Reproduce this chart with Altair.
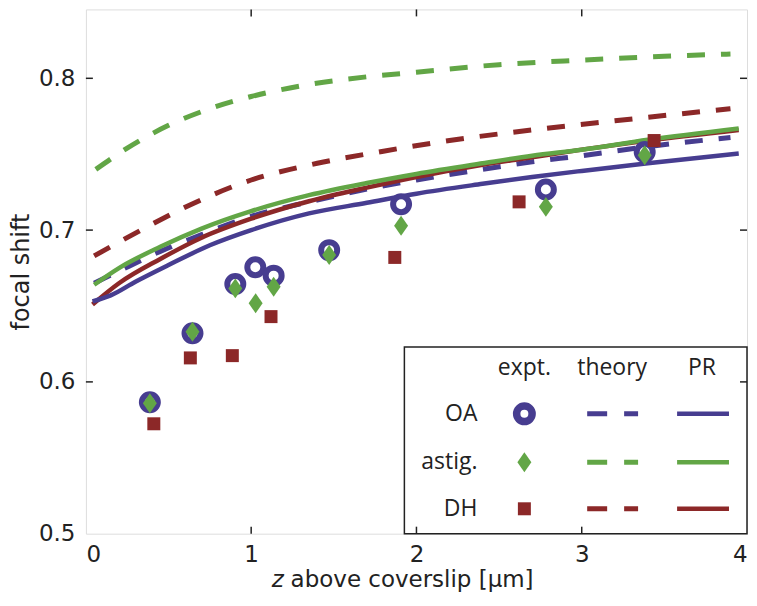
import altair as alt
import pandas as pd

# ---------------- data ----------------
# experimental points
oa_x = [0.387, 0.645, 0.904, 1.025, 1.136, 1.472, 1.907, 2.783, 3.381]
oa_y = [0.5866, 0.632, 0.6645, 0.6755, 0.670, 0.6868, 0.717, 0.7268, 0.7515]
astig_x = [0.387, 0.645, 0.904, 1.027, 1.136, 1.472, 1.907, 2.783, 3.381]
astig_y = [0.586, 0.633, 0.6616, 0.6518, 0.6627, 0.6836, 0.7028, 0.7153, 0.7493]
dh_x = [0.411, 0.632, 0.886, 1.12, 1.869, 2.621, 3.438]
dh_y = [0.5724, 0.6158, 0.6173, 0.643, 0.682, 0.7186, 0.759]

# theory curves (dashed)
oa_th_x = [0.05, 0.2, 0.45, 0.7, 1.0, 1.35, 1.7, 2.0, 2.4, 2.7, 3.0, 3.4, 3.9]
oa_th_y = [0.665, 0.673, 0.686, 0.697, 0.709, 0.7186, 0.727, 0.733, 0.740, 0.745, 0.749, 0.755, 0.761]
astig_th_x = [0.06, 0.25, 0.5, 0.75, 1.0, 1.3, 1.7, 2.0, 2.5, 3.0, 3.5, 3.9]
astig_th_y = [0.740, 0.754, 0.769, 0.780, 0.788, 0.795, 0.801, 0.804, 0.809, 0.812, 0.8145, 0.816]
dh_th_x = [0.05, 0.3, 0.6, 1.0, 1.4, 1.8, 2.2, 2.7, 3.2, 3.9]
dh_th_y = [0.683, 0.698, 0.715, 0.733, 0.744, 0.752, 0.759, 0.766, 0.772, 0.780]

# phase-retrieval curves (solid)
oa_pr_x = [0.04, 0.15, 0.3, 0.5, 0.75, 1.0, 1.35, 1.7, 2.0, 2.4, 2.7, 3.0, 3.4, 3.95]
oa_pr_y = [0.653, 0.657, 0.666, 0.677, 0.690, 0.700, 0.711, 0.718, 0.724, 0.7305, 0.735, 0.739, 0.744, 0.7505]
astig_pr_x = [0.05, 0.2, 0.45, 0.7, 1.0, 1.35, 1.7, 2.0, 2.4, 2.7, 3.0, 3.4, 3.95]
astig_pr_y = [0.664, 0.675, 0.689, 0.701, 0.7125, 0.723, 0.731, 0.737, 0.744, 0.749, 0.753, 0.7595, 0.767]
dh_pr_x = [0.04, 0.2, 0.45, 0.7, 1.0, 1.35, 1.7, 2.0, 2.4, 2.7, 3.0, 3.4, 3.95]
dh_pr_y = [0.651, 0.665, 0.681, 0.695, 0.7075, 0.719, 0.728, 0.735, 0.743, 0.748, 0.753, 0.759, 0.766]

# axis ticks
x_ticks = [0, 1, 2, 3, 4]
y_ticks = [0.5, 0.6, 0.7, 0.8]
x_inner_ticks = [1, 2, 3]
y_inner_ticks = [0.6, 0.7, 0.8]

# legend table (in data coordinates)
legend_rows = ["OA", "astig.", "DH"]
legend_row_y = [0.579, 0.547, 0.5164]
legend_headers = ["expt.", "theory", "PR"]
legend_header_x = [2.653, 3.184, 3.728]
legend_header_y = 0.6092
legend_label_x = 2.369
legend_marker_x = 2.653
legend_dash_x = [3.033, 3.341]
legend_solid_x = [3.577, 3.891]
legend_box_x = [1.927, 4.0]
legend_box_y = [0.5, 0.623]

# ---------------- styling ----------------
BLUE = "#473d90"
GREEN = "#62a646"
RED = "#8c2828"
INK = "#222222"
W, H = 662, 525
XDOM = [0, 4]
YDOM = [0.5, 0.8454]
DIAMOND = "M0,-1L0.7,0L0,1L-0.7,0Z"
AXFONT = "DejaVu Sans"


def X(field="x"):
    return alt.X(f"{field}:Q", scale=alt.Scale(domain=XDOM, nice=False, zero=False),
                 axis=alt.Axis(values=x_ticks, format="d", title=None, grid=False,
                               ticks=False, tickSize=0, domain=False, labelPadding=10,
                               labelFont=AXFONT, labelFontSize=23,
                               labelColor=INK))


def Y(field="y"):
    return alt.Y(f"{field}:Q", scale=alt.Scale(domain=YDOM, nice=False, zero=False),
                 axis=alt.Axis(values=y_ticks, format=".1f", title="focal shift", grid=False,
                               ticks=False, tickSize=0, domain=False, labelPadding=11,
                               labelFont=AXFONT, labelFontSize=23,
                               labelColor=INK, titleFont=AXFONT,
                               titleFontSize=24, titleFontWeight="normal",
                               titleColor=INK, titleAngle=270, titleX=-64,
                               titleY=H / 2, titleBaseline="middle", titleAlign="center"))


def line_df(xs, ys):
    return pd.DataFrame({"x": xs, "y": ys})


layers = []

# legend box
box = pd.DataFrame({"x": [legend_box_x[0]], "x2": [legend_box_x[1]],
                    "y": [legend_box_y[0]], "y2": [legend_box_y[1]]})
layers.append(alt.Chart(box).mark_rect(fill="white", stroke=INK, strokeWidth=1.5).encode(
    x=X("x"), x2="x2:Q", y=Y("y"), y2="y2:Q"))

# theory (dashed)
for xs, ys, c in [(astig_th_x, astig_th_y, GREEN), (dh_th_x, dh_th_y, RED), (oa_th_x, oa_th_y, BLUE)]:
    layers.append(alt.Chart(line_df(xs, ys)).mark_line(
        color=c, strokeWidth=5, strokeDash=[18, 16], interpolate="monotone", strokeCap="butt"
    ).encode(x=X(), y=Y()))

# PR (solid)
for xs, ys, c in [(dh_pr_x, dh_pr_y, RED), (astig_pr_x, astig_pr_y, GREEN), (oa_pr_x, oa_pr_y, BLUE)]:
    layers.append(alt.Chart(line_df(xs, ys)).mark_line(
        color=c, strokeWidth=4.5, interpolate="monotone"
    ).encode(x=X(), y=Y()))

# experimental points
layers.append(alt.Chart(line_df(oa_x, oa_y)).mark_point(
    shape="circle", filled=False, size=256, strokeWidth=6, color=BLUE, opacity=1
).encode(x=X(), y=Y()))
layers.append(alt.Chart(line_df(astig_x, astig_y)).mark_point(
    shape=DIAMOND, filled=True, size=400, color=GREEN, opacity=1, strokeWidth=0
).encode(x=X(), y=Y()))
layers.append(alt.Chart(line_df(dh_x, dh_y)).mark_point(
    shape="square", filled=True, size=169, color=RED, opacity=1, strokeWidth=0
).encode(x=X(), y=Y()))

# inward ticks
ytk = pd.DataFrame({"y": y_inner_ticks})
xtk = pd.DataFrame({"x": x_inner_ticks})
layers.append(alt.Chart(ytk).mark_rule(color=INK, strokeWidth=1.5).encode(
    y=Y(), x=alt.value(0), x2=alt.value(7)))
layers.append(alt.Chart(ytk).mark_rule(color=INK, strokeWidth=1.5).encode(
    y=Y(), x=alt.value(W - 7), x2=alt.value(W)))
layers.append(alt.Chart(xtk).mark_rule(color=INK, strokeWidth=1.5).encode(
    x=X(), y=alt.value(H - 7), y2=alt.value(H)))
layers.append(alt.Chart(xtk).mark_rule(color=INK, strokeWidth=1.5).encode(
    x=X(), y=alt.value(0), y2=alt.value(7)))

# legend contents
hdr = pd.DataFrame({"x": legend_header_x, "y": [legend_header_y] * 3, "t": legend_headers})
layers.append(alt.Chart(hdr).mark_text(font="Open Sans", fontSize=23, color=INK,
                                       align="center", baseline="middle").encode(
    x=X(), y=Y(), text="t:N"))
rows = pd.DataFrame({"x": [legend_label_x] * 3, "y": legend_row_y, "t": legend_rows})
layers.append(alt.Chart(rows).mark_text(font="Open Sans", fontSize=23, color=INK,
                                        align="right", baseline="middle").encode(
    x=X(), y=Y(), text="t:N"))
for i, c in enumerate([BLUE, GREEN, RED]):
    seg = pd.DataFrame({"x": [legend_dash_x[0]], "x2": [legend_dash_x[1]], "y": [legend_row_y[i]]})
    layers.append(alt.Chart(seg).mark_rule(color=c, strokeWidth=5, strokeDash=[20, 17],
                                           strokeCap="butt").encode(
        x=X(), x2="x2:Q", y=Y()))
    seg2 = pd.DataFrame({"x": [legend_solid_x[0]], "x2": [legend_solid_x[1]], "y": [legend_row_y[i]]})
    layers.append(alt.Chart(seg2).mark_rule(color=c, strokeWidth=4.5, strokeCap="butt").encode(
        x=X(), x2="x2:Q", y=Y()))
lm = pd.DataFrame({"x": [legend_marker_x], "y": [legend_row_y[0]]})
layers.append(alt.Chart(lm).mark_point(shape="circle", filled=False, size=240, strokeWidth=7.5,
                                       color=BLUE, opacity=1).encode(x=X(), y=Y()))
lm2 = pd.DataFrame({"x": [legend_marker_x], "y": [legend_row_y[1]]})
layers.append(alt.Chart(lm2).mark_point(shape=DIAMOND, filled=True, size=400, color=GREEN,
                                        opacity=1, strokeWidth=0).encode(x=X(), y=Y()))
lm3 = pd.DataFrame({"x": [legend_marker_x], "y": [legend_row_y[2]]})
layers.append(alt.Chart(lm3).mark_point(shape="square", filled=True, size=169, color=RED,
                                        opacity=1, strokeWidth=0).encode(x=X(), y=Y()))

# x-axis title with italic z
tz = pd.DataFrame({"t": ["z"]})
layers.append(alt.Chart(tz).mark_text(font=AXFONT, fontSize=23, fontStyle="italic",
                                      color=INK, align="left", baseline="alphabetic").encode(
    x=alt.value(186), y=alt.value(578), text="t:N"))
tr = pd.DataFrame({"t": ["above coverslip [µm]"]})
layers.append(alt.Chart(tr).mark_text(font=AXFONT, fontSize=23,
                                      color=INK, align="left", baseline="alphabetic").encode(
    x=alt.value(205), y=alt.value(578), text="t:N"))

chart = alt.layer(*layers).properties(
    width=W, height=H,
    autosize=alt.AutoSizeParams(type="none"),
    padding={"left": 78, "top": 1, "right": 2, "bottom": 58},
).configure_view(stroke=INK, strokeWidth=1.5).configure(background="white")

chart.save("out.html", embed_options={"renderer": "svg", "actions": False})
